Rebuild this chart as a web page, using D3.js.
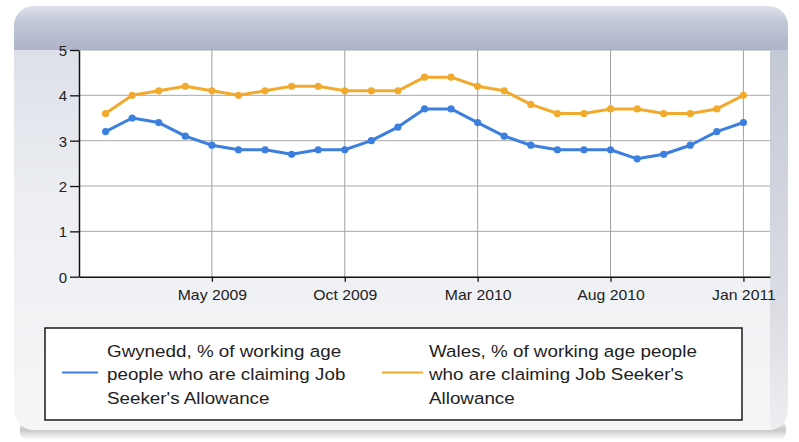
<!DOCTYPE html>
<html><head><meta charset="utf-8">
<script src="https://cdn.jsdelivr.net/npm/d3@7"></script>
<style>body{margin:0;background:#fff}svg{display:block}</style>
</head><body><svg id="c" width="799" height="442"></svg>
<script>
const months = ["Jan 2009","Feb 2009","Mar 2009","Apr 2009","May 2009","Jun 2009","Jul 2009","Aug 2009","Sep 2009","Oct 2009","Nov 2009","Dec 2009",
  "Jan 2010","Feb 2010","Mar 2010","Apr 2010","May 2010","Jun 2010","Jul 2010","Aug 2010","Sep 2010","Oct 2010","Nov 2010","Dec 2010","Jan 2011"];
const gwynedd = [3.2,3.5,3.4,3.1,2.9,2.8,2.8,2.7,2.8,2.8,3.0,3.3,3.7,3.7,3.4,3.1,2.9,2.8,2.8,2.8,2.6,2.7,2.9,3.2,3.4];
const wales   = [3.6,4.0,4.1,4.2,4.1,4.0,4.1,4.2,4.2,4.1,4.1,4.1,4.4,4.4,4.2,4.1,3.8,3.6,3.6,3.7,3.7,3.6,3.6,3.7,4.0];
const tickLabels = ["May 2009","Oct 2009","Mar 2010","Aug 2010","Jan 2011"];
const yTicks = [0,1,2,3,4,5];
const seriesNames = ["Gwynedd, % of working age people who are claiming Job Seeker's Allowance",
                     "Wales, % of working age people who are claiming Job Seeker's Allowance"];
const legendLines = [["Gwynedd, % of working age","people who are claiming Job","Seeker's Allowance"],
                     ["Wales, % of working age people","who are claiming Job Seeker's","Allowance"]];
const colors = ["#3b7fdf","#f2aa2e"];

const svg = d3.select("#c");
const defs = svg.append("defs");
const g1 = defs.append("linearGradient").attr("id","hdr").attr("x1",0).attr("y1",0).attr("x2",0).attr("y2",1);
g1.append("stop").attr("offset","0").attr("stop-color","#dfe2ea");
g1.append("stop").attr("offset","0.35").attr("stop-color","#c3c8d8");
g1.append("stop").attr("offset","1").attr("stop-color","#adb3c9");
const g2 = defs.append("linearGradient").attr("id","body").attr("x1",0).attr("y1",0).attr("x2",0).attr("y2",1);
g2.append("stop").attr("offset","0").attr("stop-color","#d9dce6");
g2.append("stop").attr("offset","0.45").attr("stop-color","#eceef2");
g2.append("stop").attr("offset","1").attr("stop-color","#f6f6f7");
const g3 = defs.append("linearGradient").attr("id","rband").attr("x1",0).attr("y1",0).attr("x2",0).attr("y2",1);
g3.append("stop").attr("offset","0").attr("stop-color","#c4c9d6");
g3.append("stop").attr("offset","0.7").attr("stop-color","#dcdee4");
g3.append("stop").attr("offset","1").attr("stop-color","#eeeff1");
const g4 = defs.append("linearGradient").attr("id","shadow").attr("x1",0).attr("y1",0).attr("x2",0).attr("y2",1);
g4.append("stop").attr("offset","0").attr("stop-color","#f4f4f5");
g4.append("stop").attr("offset","0.5").attr("stop-color","#c9c9cc");
g4.append("stop").attr("offset","1").attr("stop-color","#ffffff");
defs.append("clipPath").attr("id","pclip").append("rect")
  .attr("x",14).attr("y",6).attr("width",774).attr("height",424).attr("rx",20);

// panel
svg.append("rect").attr("x",20).attr("y",420).attr("width",766).attr("height",20).attr("rx",8).attr("fill","url(#shadow)");
const panel = svg.append("g").attr("clip-path","url(#pclip)");
panel.append("rect").attr("x",14).attr("y",6).attr("width",774).attr("height",424).attr("fill","url(#body)");
panel.append("rect").attr("x",14).attr("y",6).attr("width",774).attr("height",44).attr("fill","url(#hdr)");
panel.append("rect").attr("x",770).attr("y",50).attr("width",18).attr("height",380).attr("fill","url(#rband)");

const x = d3.scaleLinear().domain([-1, months.length]).range([79, 770]);
const y = d3.scaleLinear().domain([0, 5]).range([276.7, 50]);

// plot background
svg.append("rect").attr("x",x.range()[0]).attr("y",y(5)).attr("width",x.range()[1]-x.range()[0])
  .attr("height",y(0)-y(5)).attr("fill","#ffffff");

const tickIdx = tickLabels.map(t => months.indexOf(t));
// grid
svg.append("g").selectAll("line").data(yTicks.slice(1)).join("line")
  .attr("x1",x.range()[0]).attr("x2",x.range()[1]).attr("y1",d=>y(d)).attr("y2",d=>y(d))
  .attr("stroke","#a9a9a9").attr("stroke-width",1);
svg.append("g").selectAll("line").data(tickIdx).join("line")
  .attr("x1",d=>x(d)).attr("x2",d=>x(d)).attr("y1",y(0)).attr("y2",y(5))
  .attr("stroke","#a0a0a0").attr("stroke-width",1);

// axes
const xAxis = d3.axisBottom(x).tickValues(tickIdx).tickFormat((d,i)=>tickLabels[i]).tickSize(5).tickSizeOuter(0);
const xg = svg.append("g").attr("transform",`translate(0,${y(0)})`).call(xAxis);
xg.select(".domain").attr("stroke","#111").attr("stroke-width",1.5);
xg.selectAll(".tick line").attr("stroke","#111").attr("stroke-width",1.3);
xg.selectAll("text").attr("y",23.5).attr("dy",0).attr("font-family","'Liberation Sans', Arial, sans-serif")
  .attr("font-size",14).attr("fill","#222").attr("transform","scale(1.13,1)");

const yAxis = d3.axisLeft(y).tickValues(yTicks).tickFormat(d3.format("d")).tickSize(9).tickSizeOuter(0);
const yg = svg.append("g").attr("transform",`translate(${x.range()[0]},0)`).call(yAxis);
yg.select(".domain").attr("stroke","#111").attr("stroke-width",1.5);
yg.selectAll(".tick line").attr("stroke","#111").attr("stroke-width",1.3);
yg.selectAll("text").attr("x",-12).attr("dy","0.36em").attr("font-family","'Liberation Sans', Arial, sans-serif")
  .attr("font-size",15).attr("fill","#222");

// series
const line = d3.line().x((d,i)=>x(i)).y(d=>y(d));
[gwynedd, wales].forEach((s,k)=>{
  const gs = svg.append("g");
  gs.append("path").datum(s).attr("d",line).attr("fill","none").attr("stroke",colors[k])
    .attr("stroke-width",3).attr("stroke-linejoin","round");
  gs.selectAll("circle").data(s).join("circle").attr("cx",(d,i)=>x(i)).attr("cy",d=>y(d)).attr("r",3.6)
    .attr("fill",colors[k]);
});

// legend
const lg = svg.append("g");
lg.append("rect").attr("x",45).attr("y",328).attr("width",697).attr("height",92)
  .attr("fill","#ffffff").attr("stroke","#1a1a1a").attr("stroke-width",1.5);
const legX = [{l0:62,l1:98,t:107},{l0:382,l1:423,t:429}];
legendLines.forEach((lines,k)=>{
  lg.append("line").attr("x1",legX[k].l0).attr("x2",legX[k].l1).attr("y1",372.5).attr("y2",372.5)
    .attr("stroke",colors[k]).attr("stroke-width",2.2);
  const tg = lg.append("g").attr("transform",`translate(${legX[k].t},0) scale(1.14,1)`);
  tg.append("title").text(seriesNames[k]);
  tg.selectAll("text").data(lines).join("text").attr("x",0).attr("y",(d,i)=>357.3+i*23.2)
    .attr("font-family","'Liberation Sans', Arial, sans-serif").attr("font-size",16.5).attr("fill","#1e1e1e")
    .text(d=>d);
});
</script></body></html>
